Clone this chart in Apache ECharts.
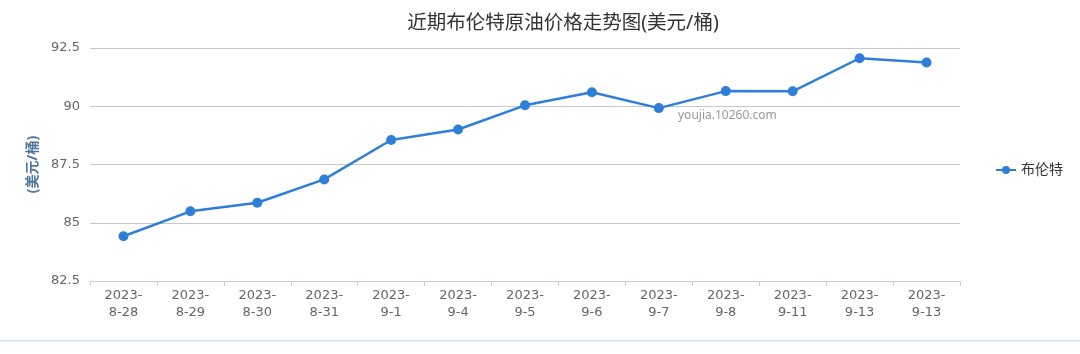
<!DOCTYPE html>
<html>
<head>
<meta charset="utf-8">
<script src="https://cdn.jsdelivr.net/npm/echarts@6/dist/echarts.min.js"></script>
<style>
  html, body { margin: 0; padding: 0; background: #fff; }
  #main { width: 1080px; height: 354px; }
</style>
</head>
<body>
<div id="main"></div>
<script>
// 日期 (x轴)
var dates = ['2023-\n8-28', '2023-\n8-29', '2023-\n8-30', '2023-\n8-31', '2023-\n9-1', '2023-\n9-4',
  '2023-\n9-5', '2023-\n9-6', '2023-\n9-7', '2023-\n9-8', '2023-\n9-11', '2023-\n9-13', '2023-\n9-13'];
// 布伦特价格
var brent = [84.42, 85.49, 85.86, 86.86, 88.55, 89.00, 90.04, 90.60, 89.92, 90.65, 90.64, 92.06, 91.88];
var yTicks = [82.5, 85, 87.5, 90, 92.5];

var chart = echarts.init(document.getElementById('main'), null, { renderer: 'canvas' });

var font = '"Noto Sans", "Noto Sans CJK SC", sans-serif';
var numFont = '"DejaVu Sans", "Noto Sans CJK SC", sans-serif';

var option = {
  animation: false,
  textStyle: { fontFamily: font },
  title: {
    text: '近期布伦特原油价格走势图(美元/桶)',
    left: 558,
    textAlign: 'center',
    top: 9,
    textStyle: { fontSize: 19.5, fontWeight: 'normal', color: '#333333', fontFamily: font }
  },
  legend: {
    orient: 'vertical',
    left: 990,
    top: 158,
    itemWidth: 20,
    itemHeight: 10,
    data: ['布伦特'],
    textStyle: { fontSize: 14, color: '#333', fontFamily: font }
  },
  grid: { left: 90, right: 120, top: 48, bottom: 73 },
  xAxis: {
    type: 'category',
    data: dates,
    boundaryGap: true,
    axisLine: { lineStyle: { color: '#c0d0e0' } },
    axisTick: { show: true, length: 5, lineStyle: { color: '#c0d0e0' } },
    axisLabel: { color: '#666', fontSize: 13, lineHeight: 17, margin: 6, fontFamily: numFont, interval: 0 }
  },
  yAxis: {
    type: 'value',
    min: yTicks[0],
    max: yTicks[yTicks.length - 1],
    interval: 2.5,
    name: '(美元/桶)',
    nameLocation: 'middle',
    nameRotate: 90,
    nameGap: 50,
    nameTextStyle: { color: '#4d759e', fontSize: 14, fontWeight: 'bold', fontFamily: font },
    axisLine: { show: false },
    axisTick: { show: false },
    axisLabel: { color: '#666', fontSize: 13, margin: 10, fontFamily: numFont },
    splitLine: { lineStyle: { color: '#c8c8c8', width: 1 } }
  },
  graphic: [
    {
      type: 'text',
      left: 678,
      top: 110,
      style: { text: 'youjia.10260.com', fill: '#999', fontSize: 12, fontFamily: font }
    },
    {
      type: 'rect',
      left: 0,
      top: 340,
      shape: { width: 1080, height: 1.5 },
      style: { fill: '#d2e1f0' }
    }
  ],
  series: [{
    name: '布伦特',
    type: 'line',
    data: brent,
    symbol: 'circle',
    symbolSize: 10,
    itemStyle: { color: '#2f7ed8' },
    lineStyle: { color: '#2f7ed8', width: 2.5 }
  }]
};

chart.setOption(option);
</script>
</body>
</html>
